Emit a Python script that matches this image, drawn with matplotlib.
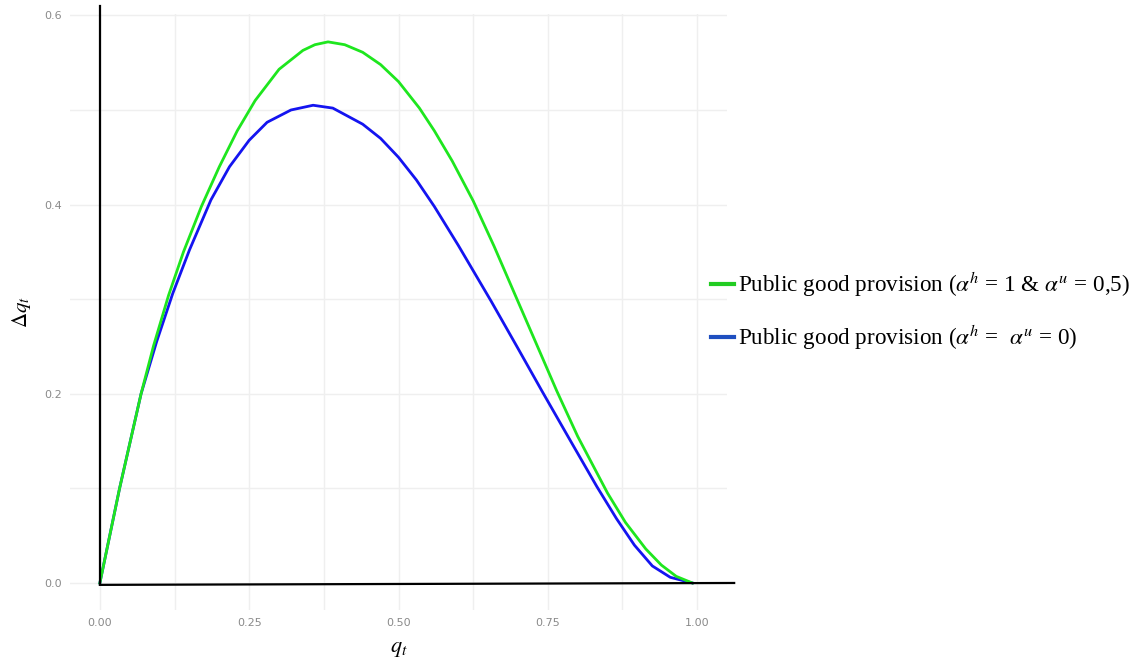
import matplotlib
matplotlib.use('Agg')
import matplotlib.pyplot as plt
from matplotlib.lines import Line2D
from matplotlib.ticker import MultipleLocator

plt.rcParams['mathtext.fontset'] = 'stix'
plt.rcParams['font.family'] = 'DejaVu Sans'

# values
q_green = [0.0, 0.033, 0.069, 0.090, 0.115, 0.140, 0.170, 0.200, 0.230, 0.260,
           0.300, 0.340, 0.360, 0.382, 0.410, 0.440, 0.470, 0.500, 0.535, 0.560,
           0.590, 0.625, 0.660, 0.697, 0.730, 0.765, 0.800, 0.850, 0.880, 0.914,
           0.940, 0.965, 0.992]
dq_green = [0.0, 0.100, 0.200, 0.251, 0.304, 0.350, 0.398, 0.440, 0.478, 0.510,
            0.543, 0.563, 0.569, 0.572, 0.569, 0.561, 0.548, 0.530, 0.502, 0.478,
            0.446, 0.404, 0.356, 0.302, 0.254, 0.203, 0.155, 0.095, 0.064, 0.036,
            0.019, 0.007, 0.0]

q_blue = [0.0, 0.033, 0.069, 0.095, 0.122, 0.150, 0.186, 0.217, 0.250, 0.280,
          0.320, 0.357, 0.390, 0.440, 0.470, 0.500, 0.530, 0.560, 0.600, 0.655,
          0.700, 0.741, 0.790, 0.832, 0.865, 0.895, 0.925, 0.955, 0.992]
dq_blue = [0.0, 0.100, 0.200, 0.255, 0.306, 0.352, 0.405, 0.440, 0.468, 0.487,
           0.500, 0.505, 0.502, 0.485, 0.470, 0.450, 0.426, 0.398, 0.357, 0.298,
           0.248, 0.202, 0.148, 0.102, 0.068, 0.040, 0.018, 0.006, 0.0]

x_ticks = [0.0, 0.25, 0.5, 0.75, 1.0]
x_labels = ['0.00', '0.25', '0.50', '0.75', '1.00']
y_ticks = [0.0, 0.2, 0.4, 0.6]
y_labels = ['0.0', '0.2', '0.4', '0.6']

label_green = r'Public good provision ($\alpha^h$ = 1 & $\alpha^u$ = 0,5)'
label_blue = r'Public good provision ($\alpha^h$ =  $\alpha^u$ = 0)'

fig = plt.figure(figsize=(11.42, 6.62), dpi=100)
ax = fig.add_axes([0.0613, 0.0785, 0.5753, 0.9004])

ax.plot(q_green, dq_green, color='#1ee61e', lw=2.0, zorder=3, solid_joinstyle='round')
ax.plot(q_blue, dq_blue, color='#1414f0', lw=2.0, zorder=2, solid_joinstyle='round')

ax.set_xlim(-0.05, 1.05)
ax.set_ylim(-0.0286, 0.6015)

# ggplot-like minimal theme
ax.set_xticks(x_ticks)
ax.set_xticklabels(x_labels)
ax.set_yticks(y_ticks)
ax.set_yticklabels(y_labels)
ax.xaxis.set_minor_locator(MultipleLocator(0.125))
ax.yaxis.set_minor_locator(MultipleLocator(0.1))
ax.grid(True, which='both', color='#efefef', lw=1.0)
ax.set_axisbelow(True)
ax.tick_params(which='both', length=0, labelsize=8, labelcolor='#8a8a8a', pad=6)
for s in ax.spines.values():
    s.set_visible(False)

# black reference axes drawn at zero
ax.plot([0, 0], [0, 0.61], color='black', lw=1.6, clip_on=False, zorder=4)
ax.plot([0, 1.062], [-0.002, 0.0], color='black', lw=1.6, clip_on=False, zorder=4)

ax.set_xlabel(r'$q_t$', fontsize=16, labelpad=8)
ax.set_ylabel(r'$\Delta q_t$', fontsize=15, labelpad=8)

handles = [Line2D([], [], color='#22cc22', lw=3),
           Line2D([], [], color='#1f4fc0', lw=3)]
leg = fig.legend(handles, [label_green, label_blue], loc='upper left',
                 bbox_to_anchor=(0.6045, 0.622), frameon=False,
                 prop={'family': 'Liberation Serif', 'size': 16.7},
                 handlelength=1.0, handletextpad=0.17, labelspacing=1.05)

fig.savefig('out.png', dpi=100)
